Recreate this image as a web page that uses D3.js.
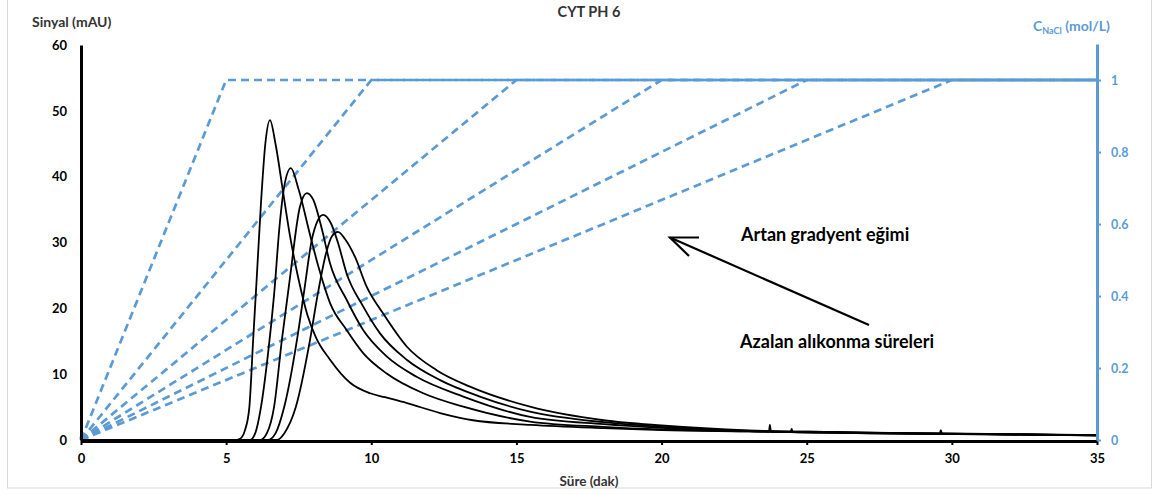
<!DOCTYPE html>
<html>
<head>
<meta charset="utf-8">
<script src="https://cdn.jsdelivr.net/npm/d3@7"></script>
<style>
  html, body { margin: 0; padding: 0; background: #fff; }
  svg { display: block; }
  text { font-family: Lato, "Open Sans", "DejaVu Sans", sans-serif; }
</style>
</head>
<body>
<svg id="chart" width="1153" height="495"></svg>
<script>
// Retention time axis (min) and signal (mAU)
const xTicks = [0, 5, 10, 15, 20, 25, 30, 35];
const yTicks = [0, 10, 20, 30, 40, 50, 60];
const y2Ticks = [0, 0.2, 0.4, 0.6, 0.8, 1];

// Chromatograms, earliest (steepest gradient) first
const t1 = [0, 5.3, 5.48, 5.65, 5.8, 5.93, 6.05, 6.2, 6.35, 6.51, 6.7, 6.95, 7.2, 7.5, 7.8, 8.1, 8.58, 9.27, 9.96, 10.47, 11.23, 12.37, 13.5, 15.5, 18, 20, 23, 23.7, 23.73, 23.77, 24.45, 24.48, 24.52, 26, 29, 29.58, 29.62, 29.66, 32, 35];
const v1 = [0, 0, 0.2, 1.5, 5, 15.2, 24.3, 36, 45, 48.6, 45, 38, 31, 24.3, 19, 15.5, 12.2, 8.7, 7.1, 6.5, 5.6, 4.1, 3.0, 2.3, 1.8, 1.5, 1.3, 1.25, 2.3, 1.25, 1.2, 1.7, 1.2, 1.1, 0.95, 0.95, 1.5, 0.95, 0.85, 0.7];

const t2 = [0, 5.82, 6.0, 6.2, 6.44, 6.65, 6.85, 7.0, 7.23, 7.5, 7.9, 8.2, 8.58, 9.15, 9.72, 10.53, 11.79, 13.17, 15.47, 18, 20, 23, 26, 29, 32, 35];
const v2 = [0, 0, 1, 5, 13, 22, 33, 38.5, 41.3, 38, 31, 26, 20.8, 16.7, 13.2, 10.1, 7.1, 5.06, 2.8, 2.0, 1.6, 1.3, 1.1, 0.95, 0.8, 0.72];

const t3 = [0, 6.17, 6.4, 6.65, 6.92, 7.18, 7.54, 7.78, 8.0, 8.3, 8.58, 9.15, 9.72, 10.53, 11.56, 13.17, 15.47, 18, 20, 23, 26, 29, 32, 35];
const v3 = [0, 0, 1, 5, 15.2, 24, 35.4, 37.5, 36.5, 32, 26.8, 21.3, 16.7, 12.7, 9.6, 6.6, 3.5, 2.4, 1.85, 1.35, 1.15, 1.0, 0.9, 0.75];

const t4 = [0, 6.44, 6.7, 7.0, 7.44, 7.7, 7.95, 8.15, 8.34, 8.6, 8.85, 9.15, 9.72, 10.3, 11.22, 12.37, 13.74, 15.47, 18, 20, 23, 26, 29, 32, 35];
const v4 = [0, 0, 1, 5, 15.2, 23, 30.4, 33.3, 34.2, 33, 30, 25.3, 20.3, 16.2, 12.2, 9.1, 6.6, 4.3, 2.7, 2.0, 1.4, 1.2, 1.0, 0.85, 0.72];

const t5 = [0, 6.75, 7.0, 7.4, 7.89, 8.15, 8.45, 8.65, 8.85, 9.1, 9.44, 9.84, 10.41, 11.22, 12.25, 13.4, 15.47, 18, 20, 23, 26, 29, 32, 35];
const v5 = [0, 0, 1, 5, 15.2, 22, 28.5, 31, 31.6, 30.5, 27.8, 23.3, 19.2, 14.2, 10.6, 8.1, 5.06, 3.0, 2.2, 1.45, 1.2, 1.0, 0.85, 0.7];

// Salt gradient programmes: 0 -> 1 mol/L NaCl over each gradient time, then held
const gradientTimes = [5, 10, 15, 20, 25, 30];
const naclStart = 0, naclEnd = 1, runEnd = 35;

const svg = d3.select("#chart");

// Outer frame
svg.append("rect").attr("x", 7.5).attr("y", -2).attr("width", 1144).attr("height", 490)
  .attr("fill", "none").attr("stroke", "#d9d9d9").attr("stroke-width", 1);

const x = d3.scaleLinear().domain([0, 35]).range([81, 1097]);
const y = d3.scaleLinear().domain([0, 60]).range([440, 45]);
const y2 = d3.scaleLinear().domain([0, 1.1]).range([440, 44]);

const blue = "#5B9BD5";

// Gradient lines (dashed)
const gLine = d3.line().x(d => x(d[0])).y(d => y2(d[1]));
const gGroup = svg.append("g");
gradientTimes.forEach(T => {
  const pts = [[0, naclStart], [T, naclEnd], [runEnd, naclEnd]];
  gGroup.append("path").attr("d", gLine(pts))
    .attr("fill", "none").attr("stroke", blue).attr("stroke-width", 2.7)
    .attr("stroke-dasharray", "8,5");
});
gGroup.append("circle").attr("cx", x(0) + 2).attr("cy", y2(0) - 2).attr("r", 3.5).attr("fill", blue);

// Chromatograms
const traces = [[t1, v1], [t2, v2], [t3, v3], [t4, v4], [t5, v5]];
const cLine = d3.line().x(d => x(d[0])).y(d => y(d[1])).curve(d3.curveMonotoneX);
const cGroup = svg.append("g");
traces.forEach(([ts, vs]) => {
  const pts = ts.map((t, i) => [t, vs[i]]);
  cGroup.append("path").attr("d", cLine(pts))
    .attr("fill", "none").attr("stroke", "#000").attr("stroke-width", 1.8)
    .attr("stroke-linejoin", "round");
});

// Left axis
const yAxis = d3.axisLeft(y).tickValues(yTicks).tickSize(0).tickPadding(14);
const gy = svg.append("g").attr("transform", "translate(81,0)").call(yAxis);
gy.select(".domain").attr("stroke", "#000").attr("stroke-width", 3);
gy.selectAll("text").attr("font-size", 13).attr("font-weight", "bold").attr("fill", "#000")
  .style("font-family", "Lato, sans-serif");

// Bottom axis
const xAxis = d3.axisBottom(x).tickValues(xTicks).tickSize(4).tickSizeOuter(0).tickPadding(9);
const gx = svg.append("g").attr("transform", "translate(0,441)").call(xAxis);
gx.select(".domain").attr("stroke", "#000").attr("stroke-width", 3);
gx.selectAll(".tick line").attr("stroke", "#000").attr("stroke-width", 2);
gx.selectAll("text").attr("font-size", 13).attr("font-weight", "bold").attr("fill", "#000")
  .style("font-family", "Lato, sans-serif");

// Right axis (NaCl concentration)
const y2Axis = d3.axisRight(y2).tickValues(y2Ticks).tickSize(4).tickSizeOuter(0).tickPadding(10)
  .tickFormat(d => d === 0 || d === 1 ? d3.format("d")(d) : d3.format(".1f")(d));
const gy2 = svg.append("g").attr("transform", "translate(1097,0)").call(y2Axis);
gy2.select(".domain").attr("stroke", blue).attr("stroke-width", 3);
gy2.selectAll(".tick line").attr("stroke", blue).attr("stroke-width", 2);
gy2.selectAll("text").attr("font-size", 12.5).attr("font-weight", "bold").attr("fill", blue)
  .style("font-family", "Lato, sans-serif");

// Titles
svg.append("text").attr("x", 589).attr("y", 17).attr("text-anchor", "middle")
  .attr("font-size", 14.5).attr("font-weight", "bold").attr("fill", "#333").text("CYT PH 6");
svg.append("text").attr("x", 32).attr("y", 27)
  .attr("font-size", 14).attr("font-weight", "bold").attr("fill", "#333").text("Sinyal (mAU)");
svg.append("text").attr("x", 589).attr("y", 486).attr("text-anchor", "middle")
  .attr("font-size", 13.5).attr("font-weight", "bold").attr("fill", "#333").text("Süre (dak)");
const rt = svg.append("text").attr("x", 1033).attr("y", 31)
  .attr("font-size", 14).attr("font-weight", "bold").attr("fill", blue);
rt.append("tspan").text("C");
rt.append("tspan").attr("font-size", 9).attr("dy", 3).text("NaCl");
rt.append("tspan").attr("dy", -3).text(" (mol/L)");

// Annotation arrow and notes
const ann = svg.append("g");
ann.append("line").attr("x1", 869).attr("y1", 325).attr("x2", 670).attr("y2", 237.5)
  .attr("stroke", "#000").attr("stroke-width", 2.2);
ann.append("path").attr("d", "M699,237.5 L670,237.5 L689,256")
  .attr("fill", "none").attr("stroke", "#000").attr("stroke-width", 2.2);
ann.append("text").attr("x", 741).attr("y", 241).attr("font-size", 18).attr("font-weight", "bold")
  .attr("fill", "#000").text("Artan gradyent eğimi");
ann.append("text").attr("x", 740).attr("y", 348).attr("font-size", 18).attr("font-weight", "bold")
  .attr("fill", "#000").text("Azalan alıkonma süreleri");
</script>
</body>
</html>
